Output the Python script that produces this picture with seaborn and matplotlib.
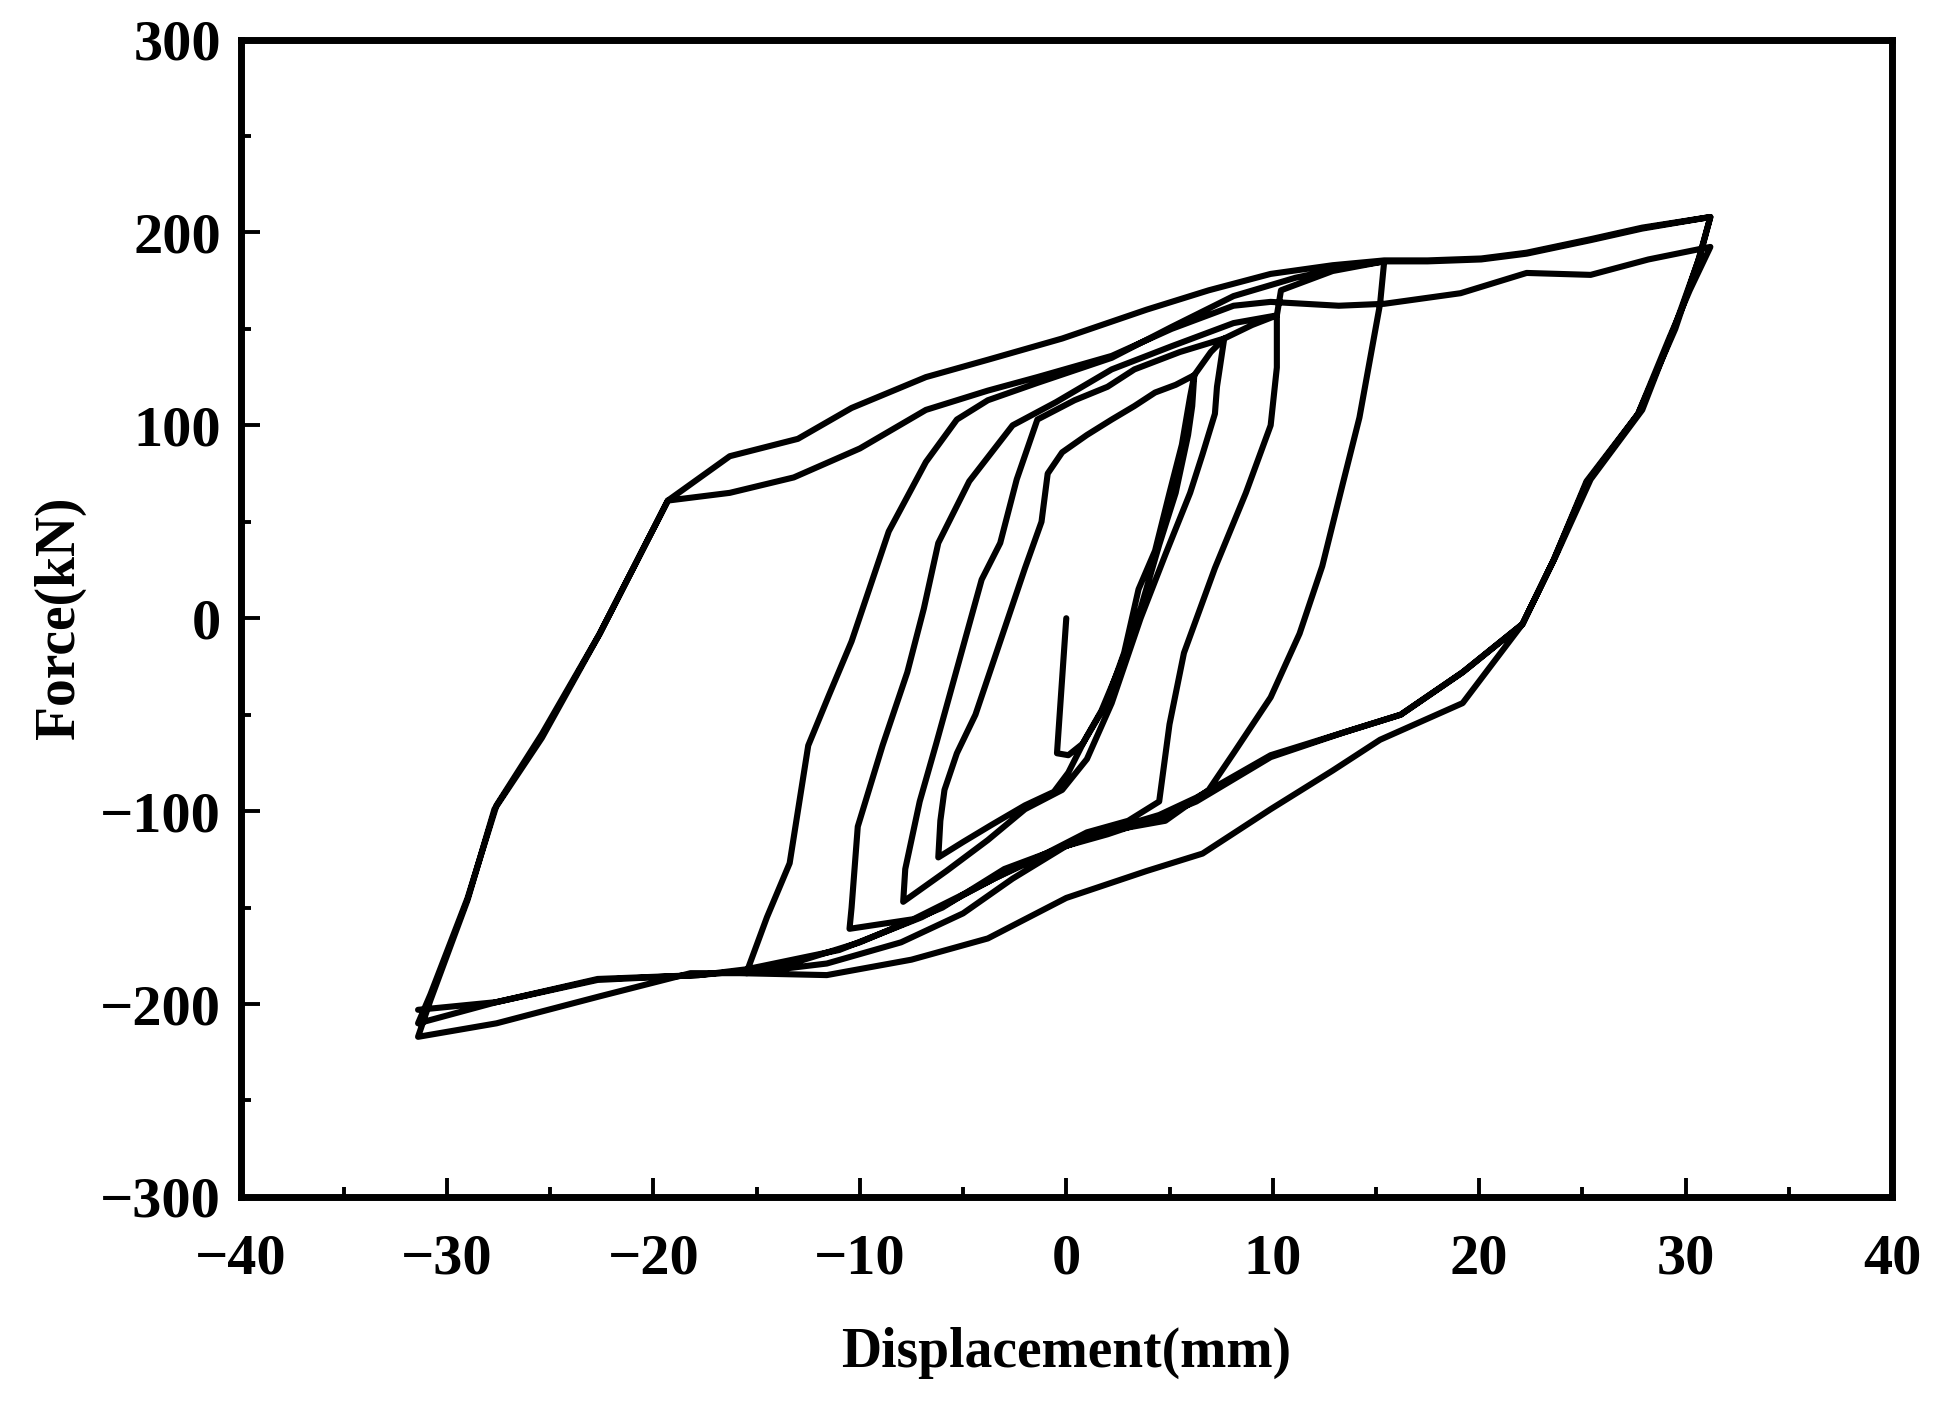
import seaborn as sns
import matplotlib.pyplot as plt
import pandas as pd

# displacement (mm) / force (kN) path, in test order
start_x = [0, -0.45, 0.1, 0.8]
start_y = [0, -70, -71, -65]

a_x = [1.9, 2.8, 3.5, 4.3, 5.0, 5.6, 6.0, 6.2,
       6.1, 5.9, 5.3, 4.5, 3.6, 2.6, 1.7, 0.9, 0.1, -0.6, -2.0, -3.6, -5.0, -6.2,
       -6.1, -5.9, -5.3, -4.4, -3.2, -2.0, -1.2, -0.9, -0.2, 1.0, 2.2, 3.3, 4.3, 5.3, 6.2]
a_y = [-45, -18, 15, 35, 65, 90, 115, 126,
       110, 95, 65, 38, 5, -25, -48, -63, -80, -90, -97, -107, -116, -124,
       -105, -89, -70, -50, -12, 26, 50, 75, 86, 95, 103, 110, 117, 121, 126]

b_x = [7.0, 7.65, 7.3, 7.2, 6.6, 6.0, 4.8, 3.6, 2.2, 1.0, -0.2, -2.0, -3.8, -5.8, -7.9,
       -7.8, -7.1, -6.3, -5.6, -4.1, -3.2, -2.4, -1.4, 0.4, 2.0, 3.3, 5.5, 7.65]
b_y = [138, 145, 120, 106, 85, 65, 33, 0, -44, -73, -89, -99, -115, -131, -147,
       -130, -95, -65, -38, 20, 39, 72, 103, 113, 120, 129, 138, 145]

c_x = [9.0, 10.2, 10.2, 9.9, 8.7, 7.2, 5.7, 5.0, 4.5, 3.0, 1.0, -1.0, -2.6, -4.4, -7.4, -10.5,
       -10.4, -10.1, -8.9, -7.7, -6.9, -6.2, -4.7, -2.6, -0.5, 2.2, 5.1, 8.1, 10.2]
c_y = [152, 157, 130, 100, 65, 26, -18, -55, -95, -105, -111, -122, -130, -140, -156, -161,
       -150, -108, -66, -28, 5, 39, 71, 100, 112, 129, 141, 153, 157]

d_x = [10.4, 12.9, 15.4, 15.2, 14.2, 13.4, 12.4, 11.3, 9.9, 8.1, 6.9, 4.8, 2.2, 0, -2.6, -5.0,
       -8.0, -11.6, -15.5,
       -14.5, -13.4, -12.5, -11.5, -10.4, -8.6, -6.8, -5.3, -3.8, -1.4, 2.2, 5.1, 8.1, 11.1,
       13.5, 15.4]
d_y = [170, 180, 185, 163, 104, 70, 27, -8, -41, -70, -89, -105, -110, -118, -135, -153,
       -168, -179, -184,
       -155, -127, -66, -40, -12, 45, 81, 103, 113, 122, 135, 151, 167, 176.5,
       182, 185]

e1_x = [17.5, 20.1, 22.3, 25.4, 27.9, 31.2,
        30.6, 29.5, 27.7, 25.2, 23.6, 22.1, 19.2, 15.2, 12.9, 9.9, 6.6, 3.9, 0, -3.8, -7.5,
        -11.6, -15.8, -18.2, -22.6, -27.6, -31.4,
        -30.8, -29.0, -27.7, -25.4, -22.6, -19.3]
e1_y = [185, 186, 189, 196, 202, 208,
        185, 150, 106, 71, 30, -3, -44, -63, -79, -99, -122, -131, -145, -166, -177,
        -185, -184, -184, -196, -210, -217,
        -198, -146, -99, -62, -8, 61]

e2_x = [-16.3, -13.0, -10.4, -6.8, -3.8, -0.2, 3.9, 6.9, 9.9, 12.9, 15.4, 17.5, 20.1, 22.3,
        25.4, 27.9, 31.2,
        30.7, 29.5, 27.9, 25.4, 23.7, 22.1, 19.2, 16.2, 13.5, 9.9, 6.3, 4.5, 2.0, 0, -3.0,
        -6.0, -10.0, -13.0, -15.8, -17.8, -22.7, -27.6, -31.4,
        -30.8, -29.0, -27.6, -25.4, -22.6, -19.3]
e2_y = [84, 93, 109, 125, 134, 145, 160, 170, 178.5, 183, 185.5, 185.5, 186.5, 189.5,
        196.5, 202.5, 208,
        188, 152, 108, 72, 32, -3, -28, -50, -59, -72, -95, -103, -112, -118, -130,
        -150, -168, -178, -183, -185, -187.5, -199, -210,
        -195, -145, -97, -60, -8, 61]

e3_x = [-16.3, -13.2, -10.0, -6.8, -3.8, -1.4, 2.2, 5.1, 8.1, 9.9, 13.2, 15.4, 19.1, 22.3,
        25.4, 28.2, 31.2,
        30.2, 29.2, 27.7, 25.2, 23.6, 22.1, 19.2, 16.2, 13.5, 9.9, 6.3, 4.5, 2.0, -0.5,
        -3.5, -7.0, -11.0, -15.5, -17.8, -22.7, -27.6, -31.4]
e3_y = [65, 73, 88, 108, 118, 125, 136, 150, 162, 164, 162, 163, 168.5, 179,
        178, 186, 192.5,
        170, 145, 106, 70, 30, -3, -28, -50, -59, -71, -93, -102, -110, -120,
        -135, -155, -172, -182, -185, -187, -199, -203]

disp = start_x + a_x + b_x + c_x + d_x + e1_x + e2_x + e3_x
force = start_y + a_y + b_y + c_y + d_y + e1_y + e2_y + e3_y
df = pd.DataFrame({"Displacement": disp, "Force": force})

sns.set_style("ticks")
plt.rcParams["font.family"] = ["Liberation Serif", "DejaVu Serif"]
plt.rcParams["font.weight"] = "bold"
plt.rcParams["text.color"] = "black"
plt.rcParams["axes.labelcolor"] = "black"
plt.rcParams["xtick.color"] = "black"
plt.rcParams["ytick.color"] = "black"

fig = plt.figure(figsize=(19.35, 14.07), dpi=100)
ax = fig.add_axes([0.1243, 0.1493, 0.8535, 0.8226])

sns.lineplot(data=df, x="Displacement", y="Force", sort=False, estimator=None,
             color="black", linewidth=4.4, ax=ax)

ax.set_xlim(-40, 40)
ax.set_ylim(-300, 300)
ax.set_xticks(range(-40, 41, 10))
ax.set_yticks(range(-300, 301, 100))
ax.set_xticks(range(-35, 40, 10), minor=True)
ax.set_yticks(range(-250, 300, 100), minor=True)
ax.tick_params(which="major", direction="in", length=14, width=2.8, labelsize=42,
               top=False, right=False, pad=14, colors="black")
ax.tick_params(axis="x", which="major", pad=26)
ax.tick_params(which="minor", direction="in", length=7, width=2.8, top=False, right=False,
               colors="black")
for lab in ax.get_xticklabels() + ax.get_yticklabels():
    lab.set_fontweight("bold")
for sp in ax.spines.values():
    sp.set_linewidth(5)
    sp.set_color("black")

ax.set_xlabel("Displacement(mm)", fontsize=40, fontweight="bold", labelpad=30, color="black")
ax.set_ylabel("Force(kN)", fontsize=40, fontweight="bold", labelpad=10, color="black")

plt.savefig("out.png", dpi=100, facecolor="white")
plt.close()
